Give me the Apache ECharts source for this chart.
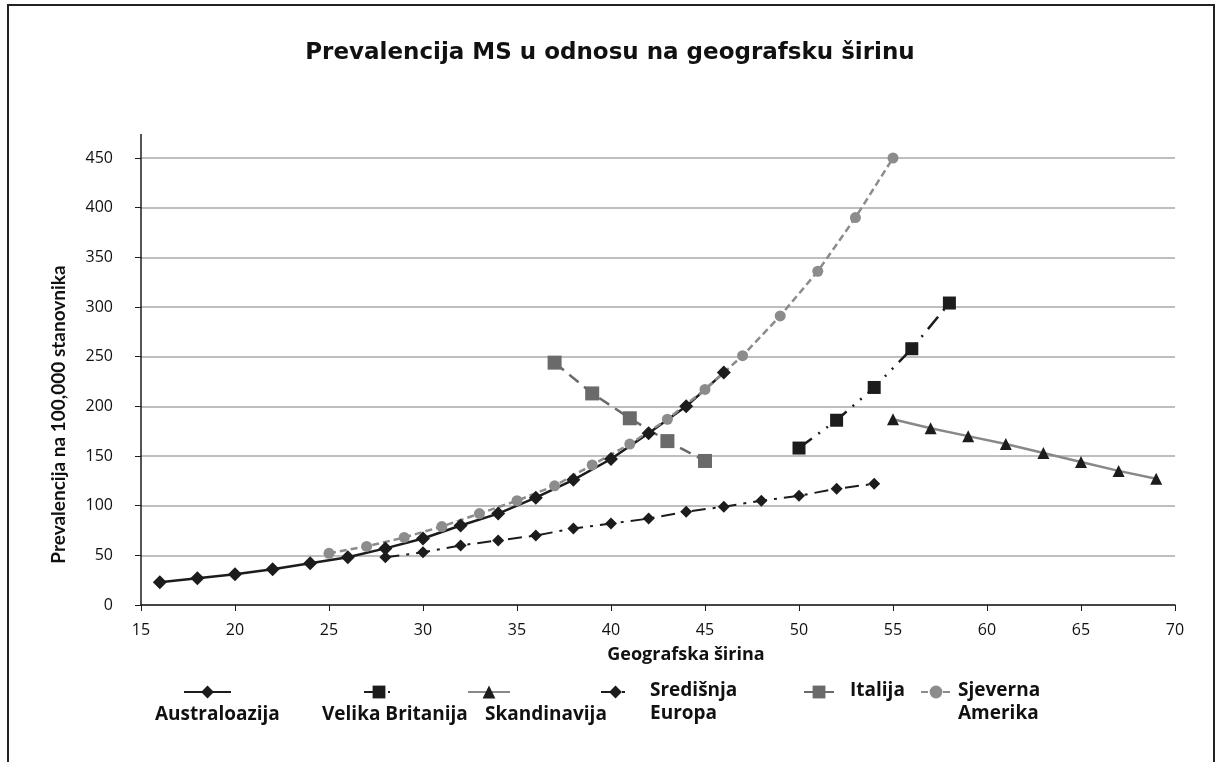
<!DOCTYPE html>
<html>
<head>
<meta charset="utf-8">
<title>Prevalencija MS u odnosu na geografsku širinu</title>
<script src="https://cdn.jsdelivr.net/npm/echarts@6/dist/echarts.min.js"></script>
<style>
  html, body { margin: 0; padding: 0; background: #fff; }
  #chart { width: 1220px; height: 762px; }
</style>
</head>
<body>
<div id="chart"></div>
<script>
// geografska širina (x) i prevalencija na 100,000 (y), po regijama
var ausLat = [16, 18, 20, 22, 24, 26, 28, 30, 32, 34, 36, 38, 40, 42, 44, 46];
var ausVal = [23, 27, 31, 36, 42, 48, 57, 67, 80, 92, 108, 126, 147, 173, 200, 234];

var gbLat = [50, 52, 54, 56, 58];
var gbVal = [158, 186, 219, 258, 304];

var skLat = [55, 57, 59, 61, 63, 65, 67, 69];
var skVal = [187, 178, 170, 162, 153, 144, 135, 127];

var ceLat = [28, 30, 32, 34, 36, 38, 40, 42, 44, 46, 48, 50, 52, 54];
var ceVal = [48, 53, 60, 65, 70, 77, 82, 87, 94, 99, 105, 110, 117, 122];

var itLat = [37, 39, 41, 43, 45];
var itVal = [244, 213, 188, 165, 145];

var naLat = [25, 27, 29, 31, 33, 35, 37, 39, 41, 43, 45, 47, 49, 51, 53, 55];
var naVal = [52, 59, 68, 79, 92, 105, 120, 141, 162, 187, 217, 251, 291, 336, 390, 450];

var xTicks = [15, 70, 5];   // min, max, korak
var yTicks = [0, 450, 50];

var names = ['Australoazija', 'Velika Britanija', 'Skandinavija', 'Središnja Europa', 'Italija', 'Sjeverna Amerika'];

function pairs(xs, ys) {
    return xs.map(function (x, i) { return [x, ys[i]]; });
}

var uiFont = '"Open Sans", "Noto Sans", sans-serif';
var nameFont = 'Lato, "Noto Sans", sans-serif';
var dark = '#1c1c1c';

var chart = echarts.init(document.getElementById('chart'));

// legenda: samo ikone, tekst ide kroz graphic
function legendBox(name, left, width) {
    return {
        data: [name],
        left: left,
        top: 684,
        itemWidth: width,
        itemHeight: 16,
        itemGap: 0,
        padding: 0,
        selectedMode: false,
        formatter: function () { return ''; },
        textStyle: { fontSize: 1 }
    };
}

function legendText(text, left, top) {
    return {
        type: 'text', left: left, top: top,
        style: { text: text, font: 'bold 19px ' + uiFont, lineHeight: 23, fill: '#111' }
    };
}

chart.setOption({
    animation: false,
    backgroundColor: '#fff',
    title: {
        text: 'Prevalencija MS u odnosu na geografsku širinu',
        left: 'center',
        top: 37,
        textStyle: {
            fontFamily: '"DejaVu Sans", sans-serif',
            fontSize: 23,
            fontWeight: 'bold',
            color: '#111'
        }
    },
    grid: { left: 141, right: 45, top: 158, bottom: 157 },
    legend: [
        legendBox(names[0], 183, 47),
        legendBox(names[1], 363, 30),
        legendBox(names[2], 467, 42),
        legendBox(names[3], 600, 29),
        legendBox(names[4], 803, 30),
        legendBox(names[5], 920, 30)
    ],
    xAxis: {
        type: 'value',
        min: xTicks[0],
        max: xTicks[1],
        interval: xTicks[2],
        name: 'Geografska širina',
        nameLocation: 'middle',
        nameGap: 41,
        nameTextStyle: {
            fontFamily: uiFont, fontSize: 18, fontWeight: 'bold', color: '#111',
            padding: [0, 0, 0, 56]
        },
        axisLine: { lineStyle: { color: dark, width: 1.5 } },
        axisTick: { show: true, length: 6, lineStyle: { color: dark } },
        axisLabel: { margin: 17, fontFamily: uiFont, fontSize: 16, color: '#111' },
        splitLine: { show: false }
    },
    yAxis: {
        type: 'value',
        min: yTicks[0],
        max: yTicks[1],
        interval: yTicks[2],
        name: 'Prevalencija na 100,000 stanovnika',
        nameLocation: 'middle',
        nameGap: 73,
        nameTextStyle: {
            fontFamily: nameFont, fontSize: 19, fontWeight: 'bold', color: '#111',
            padding: [0, 66, 0, 0]
        },
        axisLine: { show: true, lineStyle: { color: dark, width: 1.5 } },
        axisTick: { show: true, length: 6, lineStyle: { color: dark } },
        axisLabel: { margin: 28, fontFamily: uiFont, fontSize: 16, color: '#111' },
        splitLine: { show: true, lineStyle: { color: '#a8a8a8', width: 1.5 } }
    },
    series: [
        {
            name: names[0], type: 'line', data: pairs(ausLat, ausVal),
            symbol: 'diamond', symbolSize: 14,
            itemStyle: { color: dark },
            lineStyle: { color: dark, width: 2.5, type: 'solid' }
        },
        {
            name: names[1], type: 'line', data: pairs(gbLat, gbVal),
            symbol: 'rect', symbolSize: 13,
            itemStyle: { color: dark },
            lineStyle: { color: dark, width: 2.5, type: [16, 8, 2, 8, 2, 8] }
        },
        {
            name: names[2], type: 'line', data: pairs(skLat, skVal),
            symbol: 'triangle', symbolSize: 12,
            itemStyle: { color: dark },
            lineStyle: { color: '#888', width: 2.5, type: 'solid' }
        },
        {
            name: names[3], type: 'line', data: pairs(ceLat, ceVal),
            symbol: 'diamond', symbolSize: 12,
            itemStyle: { color: dark },
            lineStyle: { color: dark, width: 2, type: [14, 7, 3, 7] }
        },
        {
            name: names[4], type: 'line', data: pairs(itLat, itVal),
            symbol: 'rect', symbolSize: 14,
            itemStyle: { color: '#6a6a6a' },
            lineStyle: { color: '#6a6a6a', width: 2.5, type: [12, 7] }
        },
        {
            name: names[5], type: 'line', data: pairs(naLat, naVal),
            symbol: 'circle', symbolSize: 11,
            itemStyle: { color: '#8c8c8c' },
            lineStyle: { color: '#8c8c8c', width: 2.5, type: [7, 4] }
        }
    ],
    graphic: [
        // okvir slike
        { type: 'rect', shape: { x: 8, y: 5, width: 1206, height: 800 },
          style: { fill: 'none', stroke: '#222', lineWidth: 2 }, silent: true },
        // produžetak osi y iznad 450
        { type: 'line', shape: { x1: 141, y1: 134, x2: 141, y2: 158 },
          style: { stroke: dark, lineWidth: 1.5 }, silent: true },
        legendText('Australoazija', 155, 703),
        legendText('Velika Britanija', 322, 703),
        legendText('Skandinavija', 485, 703),
        legendText('Središnja\nEuropa', 650, 679),
        legendText('Italija', 850, 679),
        legendText('Sjeverna\nAmerika', 958, 679)
    ]
});
</script>
</body>
</html>
